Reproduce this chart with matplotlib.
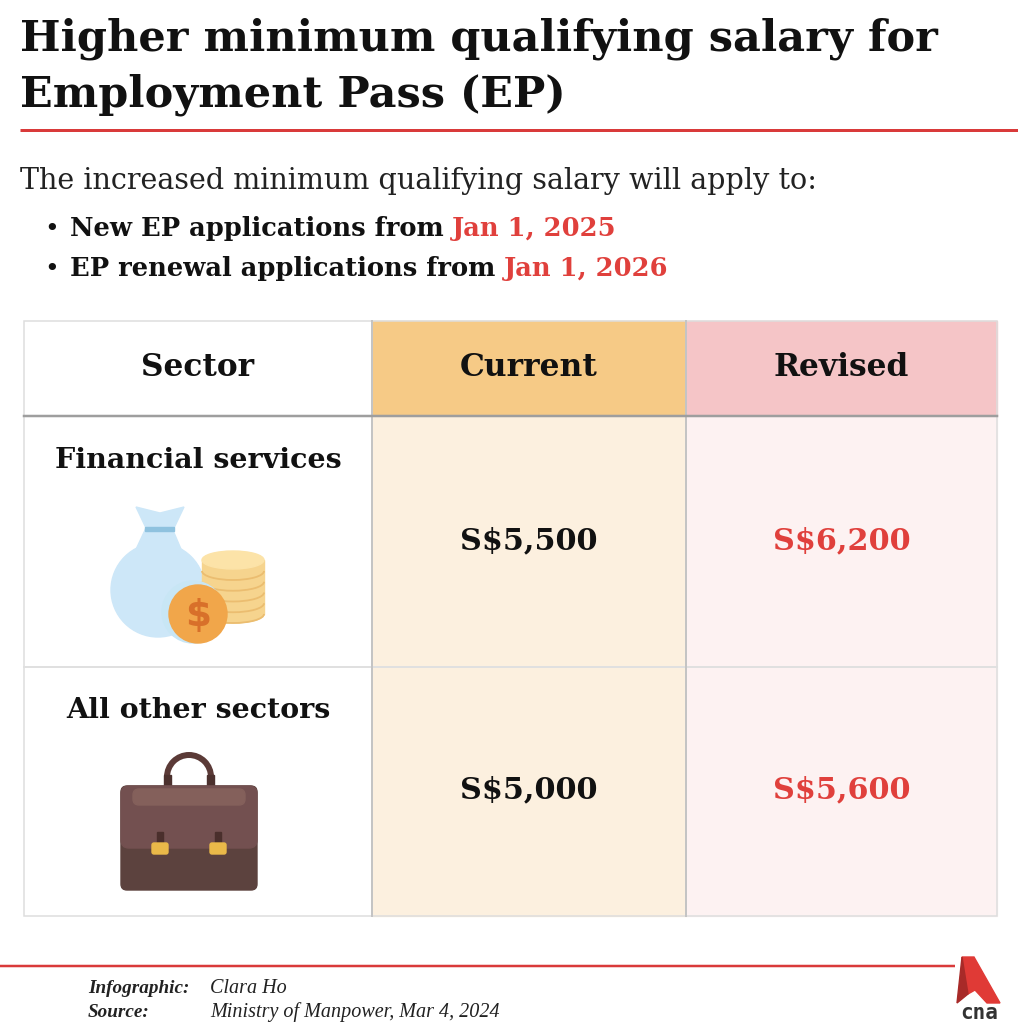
import numpy as np
import matplotlib
matplotlib.use("Agg")
import matplotlib.pyplot as plt
from matplotlib.patches import Rectangle, Ellipse, Circle, Polygon, FancyBboxPatch, Arc

# ---- content ----
title_lines = ["Higher minimum qualifying salary for", "Employment Pass (EP)"]
subtitle = "The increased minimum qualifying salary will apply to:"
bullet_text = ["New EP applications from", "EP renewal applications from"]
bullet_dates = ["Jan 1, 2025", "Jan 1, 2026"]

headers = ["Sector", "Current", "Revised"]
sectors = ["Financial services", "All other sectors"]
current = [5500, 5000]
revised = [6200, 5600]

credit_labels = ["Infographic:", "Source:"]
credit_values = ["Clara Ho", "Ministry of Manpower, Mar 4, 2024"]

RED = "#d93a3a"
DATE_RED = "#e0403c"
SERIF = "DejaVu Serif"
PT = 0.72  # points per pixel at dpi 100


def draw_moneybag(ax):
    bag = "#cde7f8"
    # bag body + neck
    ax.add_patch(Ellipse((158, 590), 94, 94, color=bag, zorder=3))
    ax.add_patch(Polygon([(124, 575), (146, 528), (172, 528), (192, 575)],
                         closed=True, color=bag, zorder=3))
    ax.add_patch(Polygon([(136, 507), (160, 513), (184, 507), (174, 528), (146, 528)],
                         closed=True, color=bag, zorder=3))
    ax.add_patch(Rectangle((145, 527), 29, 4, color="#8fc2df", zorder=4))
    # coin stack
    xs, w = 233, 62
    ax.add_patch(Rectangle((xs - w / 2, 560), w, 54, color="#f6d48e", zorder=3))
    ax.add_patch(Ellipse((xs, 614), w, 18, color="#f6d48e", zorder=3))
    for yy in np.linspace(614, 571, 5):
        ax.add_patch(Arc((xs, yy), w, 18, theta1=0, theta2=180,
                         color="#ebbd70", lw=1.3, zorder=3.1))
    ax.add_patch(Ellipse((xs, 560), w, 18, color="#fce3a8", zorder=3.2))
    # coin
    ax.add_patch(Circle((193, 612), 31, color="#c8e6f5", zorder=4))
    ax.add_patch(Circle((198, 614), 29, color="#f1a64a", zorder=5))
    ax.text(198, 616, "$", fontsize=27, color="#d8702a", ha="center", fontweight="bold",
            va="center", family="DejaVu Sans", zorder=6)


def draw_briefcase(ax):
    # handle
    ax.add_patch(Arc((189, 777), 44, 44, theta1=180, theta2=360,
                     color="#5b3a37", lw=6 * PT, zorder=3))
    ax.add_patch(Rectangle((164, 775), 7, 13, color="#4c312e", zorder=3))
    ax.add_patch(Rectangle((207, 775), 7, 13, color="#4c312e", zorder=3))
    # body
    ax.add_patch(FancyBboxPatch((121, 786), 136, 104, boxstyle="round,pad=0,rounding_size=6",
                                color="#5c423e", zorder=3))
    ax.add_patch(FancyBboxPatch((121, 786), 136, 62, boxstyle="round,pad=0,rounding_size=8",
                                color="#735050", zorder=4))
    ax.add_patch(FancyBboxPatch((133, 789), 112, 16, boxstyle="round,pad=0,rounding_size=6",
                                color="#84605b", zorder=4.5))
    # clasps
    for cx in (160, 218):
        ax.add_patch(Rectangle((cx - 3, 832), 6, 14, color="#4a2f2c", zorder=5))
        ax.add_patch(FancyBboxPatch((cx - 8, 843), 16, 11, boxstyle="round,pad=0,rounding_size=2",
                                    color="#eab949", zorder=6))


def main():
    fig = plt.figure(figsize=(10.18, 10.24), dpi=100)
    ax = fig.add_axes([0, 0, 1, 1])
    ax.set_xlim(0, 1018)
    ax.set_ylim(1024, 0)
    ax.axis("off")

    # title
    ax.text(20, 51, title_lines[0], fontsize=31, fontweight="bold", family=SERIF,
            va="baseline", color="#111111")
    ax.text(20, 107, title_lines[1], fontsize=31, fontweight="bold", family=SERIF,
            va="baseline", color="#111111")
    ax.plot([20, 1018], [130, 130], color=RED, lw=3 * PT, solid_capstyle="butt")

    # intro text
    ax.text(20, 189, subtitle, fontsize=20.6, family=SERIF, va="baseline", color="#222222")
    for i, (t, d) in enumerate(zip(bullet_text, bullet_dates)):
        yb = 236 + i * 40
        ax.text(44, yb, "•", fontsize=18, family=SERIF, va="baseline", color="#111111")
        t1 = ax.text(70, yb, t, fontsize=18.5, fontweight="bold", family=SERIF,
                     va="baseline", color="#111111")
        ax.annotate(d, xy=(1, 0), xycoords=t1, xytext=(6, 0), textcoords="offset points",
                    va="bottom", fontsize=18.5, fontweight="bold", family=SERIF, color=DATE_RED)

    # table
    xe = [24, 372, 686, 997]
    ye = [321, 416, 667, 916]
    head_fill = ["white", "#f6ca86", "#f5c5c7"]
    body_fill = ["white", "#fcf0df", "#fdf2f2"]
    for j in range(3):
        ax.add_patch(Rectangle((xe[j], ye[0]), xe[j + 1] - xe[j], ye[1] - ye[0],
                               color=head_fill[j], zorder=1))
        ax.add_patch(Rectangle((xe[j], ye[1]), xe[j + 1] - xe[j], ye[3] - ye[1],
                               color=body_fill[j], zorder=1))
        ax.text((xe[j] + xe[j + 1]) / 2, 367, headers[j], fontsize=22.5, fontweight="bold",
                family=SERIF, ha="center", va="center", color="#111111", zorder=5)
    # borders
    ax.add_patch(Rectangle((xe[0], ye[0]), xe[3] - xe[0], ye[3] - ye[0], fill=False,
                           edgecolor="#dddddd", lw=1.5 * PT, zorder=2))
    ax.plot([xe[0], xe[3]], [ye[2], ye[2]], color="#e0e0e0", lw=2 * PT, zorder=2)
    for x in xe[1:3]:
        ax.plot([x, x], [ye[0], ye[3]], color="#c4c4c4", lw=2 * PT, zorder=2)
    ax.plot([xe[0], xe[3]], [ye[1], ye[1]], color="#9e9e9e", lw=2.5 * PT, zorder=2)

    row_label_y = [460, 710]
    row_value_y = [541, 790]
    for i in range(len(sectors)):
        ax.text((xe[0] + xe[1]) / 2, row_label_y[i], sectors[i], fontsize=20.5,
                fontweight="bold", family=SERIF, ha="center", va="center",
                color="#111111", zorder=5)
        ax.text((xe[1] + xe[2]) / 2, row_value_y[i], f"S${current[i]:,}", fontsize=21.8,
                fontweight="bold", family=SERIF, ha="center", va="center",
                color="#111111", zorder=5)
        ax.text((xe[2] + xe[3]) / 2, row_value_y[i], f"S${revised[i]:,}", fontsize=21.8,
                fontweight="bold", family=SERIF, ha="center", va="center",
                color=DATE_RED, zorder=5)

    draw_moneybag(ax)
    draw_briefcase(ax)

    # footer
    ax.plot([0, 955], [966, 966], color=RED, lw=2.5 * PT, solid_capstyle="butt")
    for i in range(2):
        yb = 993 + i * 24
        ax.text(88, yb, credit_labels[i], fontsize=13.8, fontweight="bold", style="italic",
                family="Liberation Serif", va="baseline", color="#222222")
        ax.text(210, yb, credit_values[i], fontsize=14.5, style="italic",
                family="Liberation Serif", va="baseline", color="#222222")

    # cna logo
    ax.add_patch(Polygon([(962, 957), (974, 957), (1000, 1003), (987, 1003), (975, 990), (968, 994)],
                         closed=True, color="#e03a36", zorder=3))
    ax.add_patch(Polygon([(962, 957), (968, 994), (957, 1003)],
                         closed=True, color="#a82a28", zorder=3))
    ax.text(979, 1013, "cna", fontsize=15, fontweight="bold", family="DejaVu Sans Mono",
            ha="center", va="center", color="#333333")

    fig.savefig("out.png", dpi=100, facecolor="white")


if __name__ == "__main__":
    main()
